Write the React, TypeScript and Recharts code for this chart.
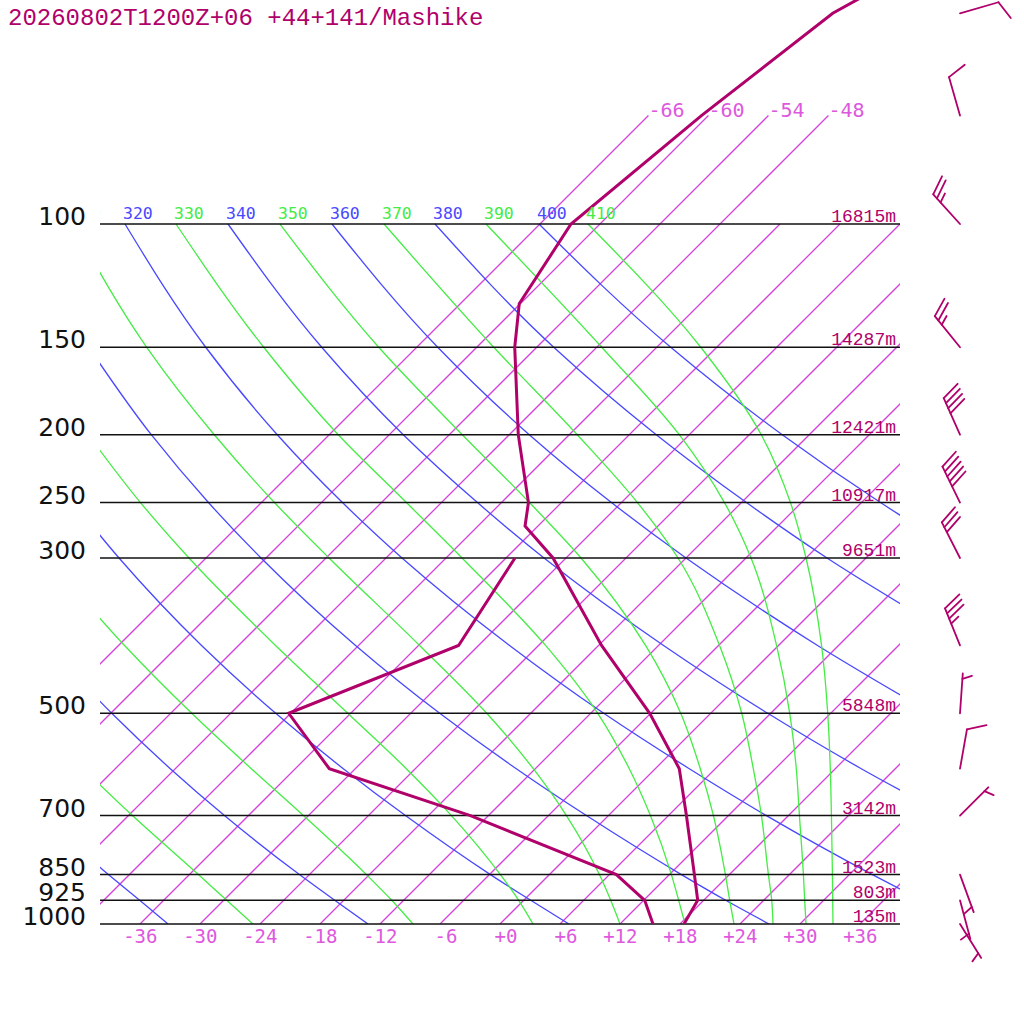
import React from "react";
import { ComposedChart, Line, XAxis, YAxis, ReferenceLine } from "recharts";

const TITLE = "20260802T1200Z+06 +44+141/Mashike";

// isobars (hPa) and their geopotential heights (m)
const ISOBARS = [100, 150, 200, 250, 300, 500, 700, 850, 925, 1000];
const HEIGHTS = [16815, 14287, 12421, 10917, 9651, 5848, 3142, 1523, 803, 135];

// temperature axis ticks (°C at 1000 hPa) and isotherms
const X_TICKS = [-36, -30, -24, -18, -12, -6, 0, 6, 12, 18, 24, 30, 36];
const ISOTHERMS = [-66, -60, -54, -48, -42, -36, -30, -24, -18, -12, -6, 0, 6, 12, 18, 24, 30, 36];
const TOP_ISOTHERMS = [-66, -60, -54, -48]; // drawn up to 70 hPa with a label

// sounding: temperature
const TEMP_P = [1000, 925, 850, 700, 600, 500, 400, 300, 270, 250, 200, 150, 130, 100, 70, 50, 30];
const TEMP_T = [18.4, 17.4, 14.5, 7.8, 2.4, -6.1, -17.7, -31.3, -37.3, -39.3, -47.1, -56.2, -60.1, -62.9, -60.7, -57.8, -45.3];

// sounding: dew point
const DEW_P = [1000, 925, 850, 700, 600, 500, 400, 300];
const DEW_T = [15.3, 12.1, 6.7, -13.8, -32.6, -42.2, -32.0, -35.1];

// wind barbs: direction (deg) and speed (kt)
const WIND_P = [1000, 925, 850, 700, 600, 500, 400, 300, 250, 200, 150, 100, 70, 50];
const WIND_DIR = [148, 165, 160, 45, 10, 4, 338, 333, 334, 336, 321, 318, 344, 74];
const WIND_KT = [5, 5, 5, 5, 10, 5, 35, 30, 50, 40, 25, 25, 10, 10];

// dry adiabats (blue): [hPa, °C]
const DRY_ADIABATS: { theta: number; pts: number[][] }[] = [
  { theta: 240, pts: [[1000, -33.2], [925, -38.4], [850, -44.1], [700, -56.4]] },
  { theta: 260, pts: [[1000, -13.2], [925, -18.9], [850, -25.0], [700, -38.4], [600, -48.5], [500, -59.9], [400, -73.1]] },
  { theta: 280, pts: [[1000, 6.9], [925, 0.7], [850, -5.9], [700, -20.3], [600, -31.2], [500, -43.5], [400, -57.7], [300, -74.7], [250, -84.8]] },
  { theta: 300, pts: [[1000, 26.9], [925, 20.2], [850, 13.2], [700, -2.2], [600, -13.9], [500, -27.1], [400, -42.3], [300, -60.5], [250, -71.3], [200, -83.8], [150, -98.8]] },
  { theta: 320, pts: [[925, 39.8], [850, 32.3], [700, 15.8], [600, 3.4], [500, -10.7], [400, -26.9], [300, -46.4], [250, -57.9], [200, -71.2], [150, -87.1], [100, -107.5]] },
  { theta: 340, pts: [[700, 33.9], [600, 20.6], [500, 5.7], [400, -11.5], [300, -32.2], [250, -44.4], [200, -58.6], [150, -75.5], [100, -97.2]] },
  { theta: 360, pts: [[500, 22.1], [400, 3.9], [300, -18.0], [250, -31.0], [200, -46.0], [150, -63.9], [100, -86.8]] },
  { theta: 380, pts: [[400, 19.2], [300, -3.9], [250, -17.5], [200, -33.3], [150, -52.3], [100, -76.5]] },
  { theta: 400, pts: [[300, 10.3], [250, -4.1], [200, -20.7], [150, -40.6], [100, -66.1]] },
];

// saturated adiabats (green): [hPa, °C]
const MOIST_ADIABATS: { theta: number; pts: number[][] }[] = [
  { theta: 250, pts: [[1000, -24.7], [925, -29.7], [850, -35.1], [700, -47.6], [600, -57.2]] },
  { theta: 270, pts: [[1000, -8.7], [925, -13.2], [850, -18.3], [700, -30.5], [600, -40.4], [500, -51.9], [400, -65.4], [300, -81.8]] },
  { theta: 290, pts: [[1000, 3.3], [925, -0.5], [850, -4.9], [700, -15.7], [600, -24.9], [500, -36.3], [400, -50.3], [300, -67.7], [250, -78.1], [200, -90.1]] },
  { theta: 310, pts: [[1000, 12.0], [925, 8.7], [850, 5.0], [700, -4.2], [600, -12.2], [500, -22.4], [400, -35.9], [300, -53.7], [250, -64.7], [200, -77.5], [150, -93.0], [100, -112.7]] },
  { theta: 330, pts: [[1000, 18.5], [925, 15.5], [850, 12.2], [700, 4.2], [600, -2.6], [500, -11.3], [400, -23.3], [300, -40.4], [250, -51.5], [200, -65.1], [150, -81.3], [100, -102.4]] },
  { theta: 350, pts: [[1000, 23.4], [925, 20.6], [850, 17.6], [700, 10.5], [600, 4.5], [500, -3.0], [400, -13.3], [300, -28.5], [250, -39.2], [200, -52.7], [150, -69.8], [100, -92.0]] },
  { theta: 370, pts: [[1000, 27.3], [925, 24.8], [850, 21.9], [700, 15.3], [600, 9.8], [500, 3.1], [400, -5.9], [300, -18.8], [250, -28.4], [200, -41.2], [150, -58.3], [100, -81.6]] },
  { theta: 390, pts: [[1000, 30.6], [925, 28.1], [850, 25.4], [700, 19.1], [600, 14.1], [500, 7.9], [400, -0.2], [300, -11.5], [250, -19.7], [200, -31.0], [150, -47.5], [100, -71.4]] },
  { theta: 410, pts: [[1000, 33.3], [925, 30.9], [850, 28.3], [700, 22.3], [600, 17.5], [500, 11.7], [400, 4.3], [300, -6.0], [250, -13.1], [200, -22.8], [150, -37.6], [100, -61.2]] },
];

// colours
const PROFILE = "#b0006a";
const ISO_COLOR = "#d444da";
const ISO_LABEL = "#de58de";
const BLUE = "#4848ff";
const GREEN = "#44ec44";
const MONO = "'DejaVu Sans Mono', monospace";
const SERIF_MONO = "'Liberation Mono', monospace";

// skew-T transform: 70 °C of skew per decade of pressure
const SKEW = 70;
const Y_MAX = 924 / 700;
const yOf = (p: number) => Math.log10(1000 / p);
const toPts = (pairs: number[][]) => pairs.map(([p, t]) => ({ x: t + SKEW * yOf(p), y: yOf(p) }));
const pOf = (v: number) => Math.round(1000 / Math.pow(10, v));

function PressureTick(props: any) {
  const { y, payload } = props;
  return (
    <text x={86} y={y + 1} textAnchor="end" fontFamily="'DejaVu Sans', sans-serif" fontSize={25} fill="#111">
      {pOf(payload.value)}
    </text>
  );
}

function BottomTick(props: any) {
  const { x, payload } = props;
  const v = payload.value;
  const s = v > 0 ? `+${v}` : v === 0 ? "+0" : `${v}`;
  return (
    <text x={x + 17.5} y={943} textAnchor="end" fontFamily={MONO} fontSize={19} fill={ISO_LABEL}>
      {s}
    </text>
  );
}

function BarbTick(props: any) {
  const { y, payload } = props;
  const i = WIND_P.indexOf(pOf(payload.value));
  if (i < 0) return null;
  const d = (WIND_DIR[i] * Math.PI) / 180;
  const ux = Math.sin(d);
  const uy = -Math.cos(d);
  const sx = 960;
  const sy = y;
  const tx = sx + 40 * ux;
  const ty = sy + 40 * uy;
  const a = Math.atan2(uy, ux) + (68 * Math.PI) / 180;
  const vx = Math.cos(a);
  const vy = Math.sin(a);
  const kt = WIND_KT[i];
  const full = Math.floor(kt / 10);
  const half = kt % 10 >= 5;
  const segs: React.ReactNode[] = [];
  let pos = full === 0 ? 1 : 0;
  const add = (len: number) => {
    const bx = tx - pos * 5.5 * ux;
    const by = ty - pos * 5.5 * uy;
    segs.push(<line key={pos} x1={bx} y1={by} x2={bx + len * vx} y2={by + len * vy} />);
    pos += 1;
  };
  for (let k = 0; k < full; k++) add(20);
  if (half) add(10);
  return (
    <g stroke={PROFILE} strokeWidth={1.8} strokeLinecap="round">
      <line x1={sx} y1={sy} x2={tx} y2={ty} />
      {segs}
    </g>
  );
}

const topLabel = (n: number, text: string, color: string, kind: "theta" | "iso") => (props: any) => {
  if (props.index !== n - 1) return null;
  const { x, y } = props;
  if (kind === "iso") {
    return (
      <text x={x} y={y + 1} fontFamily={MONO} fontSize={20} fill={ISO_LABEL}>
        {text}
      </text>
    );
  }
  return (
    <g>
      <defs>
        <clipPath id={`lab-clip-${text}`}>
          <rect x={100} y={0} width={800} height={924} />
        </clipPath>
      </defs>
      <text x={x - 2} y={y - 5} fontFamily={MONO} fontSize={16.5} fill={color} clipPath={`url(#lab-clip-${text})`}>
        {text}
      </text>
    </g>
  );
};

export default function App() {
  const temp = toPts(TEMP_P.map((p, i) => [p, TEMP_T[i]]));
  const dew = toPts(DEW_P.map((p, i) => [p, DEW_T[i]]));

  return (
    <div style={{ position: "absolute", left: 0, top: 0, width: 1024, height: 1024, background: "#fff" }}>
      <ComposedChart width={1024} height={1024} margin={{ top: 0, right: 0, bottom: 0, left: 0 }}>
        <XAxis
          xAxisId="t"
          dataKey="x"
          type="number"
          domain={[-40, 40]}
          allowDataOverflow
          ticks={X_TICKS}
          interval={0}
          height={100}
          axisLine={false}
          tickLine={false}
          tick={(p: any) => <BottomTick {...p} />}
        />
        <YAxis
          yAxisId="p"
          type="number"
          domain={[0, Y_MAX]}
          allowDataOverflow
          ticks={ISOBARS.map(yOf)}
          interval={0}
          width={100}
          axisLine={false}
          tickLine={false}
          tick={(p: any) => <PressureTick {...p} />}
        />
        <YAxis
          yAxisId="w"
          orientation="right"
          type="number"
          domain={[0, Y_MAX]}
          allowDataOverflow
          ticks={WIND_P.map(yOf)}
          interval={0}
          width={124}
          axisLine={false}
          tickLine={false}
          tick={(p: any) => <BarbTick {...p} />}
        />

        {ISOTHERMS.map((t) => {
          const labelled = TOP_ISOTHERMS.includes(t);
          const data = toPts([[1000, t], [labelled ? 70 : 100, t]]);
          return (
            <Line
              key={`iso${t}`}
              id={`iso${t}`}
              xAxisId="t"
              yAxisId="p"
              data={data}
              dataKey="y"
              type="monotoneY"
              stroke={ISO_COLOR}
              style={{ stroke: ISO_COLOR }}
              strokeWidth={1.3}
              dot={false}
              activeDot={false}
              isAnimationActive={false}
              label={labelled ? topLabel(2, `${t}`, ISO_LABEL, "iso") : undefined}
            />
          );
        })}

        {DRY_ADIABATS.map((d) => {
          const data = toPts(d.pts);
          const hasTop = d.pts[d.pts.length - 1][0] === 100;
          return (
            <Line
              key={`dry${d.theta}`}
              id={`dry${d.theta}`}
              xAxisId="t"
              yAxisId="p"
              data={data}
              dataKey="y"
              type="monotoneY"
              stroke={BLUE}
              strokeWidth={1.3}
              dot={false}
              activeDot={false}
              isAnimationActive={false}
              label={hasTop ? topLabel(data.length, `${d.theta}`, BLUE, "theta") : undefined}
            />
          );
        })}

        {MOIST_ADIABATS.map((d) => {
          const data = toPts(d.pts);
          const hasTop = d.pts[d.pts.length - 1][0] === 100;
          return (
            <Line
              key={`moist${d.theta}`}
              id={`moist${d.theta}`}
              xAxisId="t"
              yAxisId="p"
              data={data}
              dataKey="y"
              type="monotoneY"
              stroke={GREEN}
              strokeWidth={1.3}
              dot={false}
              activeDot={false}
              isAnimationActive={false}
              label={hasTop ? topLabel(data.length, `${d.theta}`, GREEN, "theta") : undefined}
            />
          );
        })}

        {ISOBARS.map((p, i) => (
          <ReferenceLine
            key={`isobar${p}`}
            xAxisId="t"
            yAxisId="p"
            y={yOf(p)}
            stroke="#111"
            strokeWidth={1.5}
            label={(lp: any) => {
              const vb = lp.viewBox || {};
              return (
                <text
                  x={(vb.x ?? 100) + (vb.width ?? 800) - 4}
                  y={(vb.y ?? 0) - 2}
                  textAnchor="end"
                  fontFamily={SERIF_MONO}
                  fontSize={18}
                  fill={PROFILE}
                >
                  {`${HEIGHTS[i]}m`}
                </text>
              );
            }}
          />
        ))}

        <Line
          id="dewpoint"
          xAxisId="t"
          yAxisId="p"
          data={dew}
          dataKey="y"
          type="linear"
          stroke={PROFILE}
          strokeWidth={3}
          dot={false}
          activeDot={false}
          isAnimationActive={false}
        />
        <Line
          id="temperature"
          xAxisId="t"
          yAxisId="p"
          data={temp}
          dataKey="y"
          type="linear"
          stroke={PROFILE}
          strokeWidth={3}
          dot={false}
          activeDot={false}
          isAnimationActive={false}
        />
      </ComposedChart>
      <svg width={1024} height={40} style={{ position: "absolute", left: 0, top: 0, pointerEvents: "none" }}>
        <text x={8} y={25} fontFamily={SERIF_MONO} fontSize={24} fill={PROFILE}>
          {TITLE}
        </text>
      </svg>
    </div>
  );
}
